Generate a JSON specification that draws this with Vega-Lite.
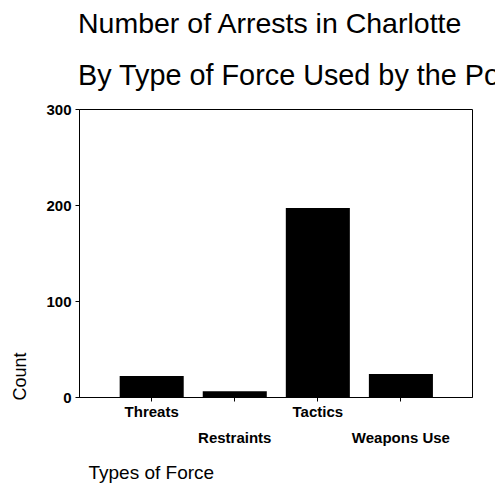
{
  "$schema": "https://vega.github.io/schema/vega-lite/v6.json",
  "autosize": "none",
  "padding": {"left": 79, "top": 109, "right": 23, "bottom": 105},
  "width": 393,
  "height": 288,
  "background": "white",
  "title": {
    "text": "Number of Arrests in Charlotte",
    "subtitle": "By Type of Force Used by the Police",
    "anchor": "start",
    "frame": "group",
    "dx": -1,
    "offset": 11,
    "font": "Liberation Sans",
    "fontSize": 28.5,
    "fontWeight": "normal",
    "color": "black",
    "subtitleFont": "Liberation Sans",
    "subtitleFontSize": 28.8,
    "subtitleColor": "black",
    "subtitlePadding": 24
  },
  "data": {
    "values": [
      {"force": "Threats", "count": 22},
      {"force": "Restraints", "count": 6},
      {"force": "Tactics", "count": 197},
      {"force": "Weapons Use", "count": 24}
    ]
  },
  "mark": {"type": "bar", "color": "black"},
  "encoding": {
    "x": {
      "field": "force",
      "type": "nominal",
      "sort": null,
      "scale": {"paddingInner": 0.229, "paddingOuter": 0.48, "align": 0.51},
      "axis": {
        "title": "Types of Force",
        "titleFont": "Liberation Sans",
        "titleFontSize": 19,
        "titleFontWeight": "normal",
        "titleColor": "black",
        "titleX": 9,
        "titleY": 75,
        "titleAlign": "left",
        "titleBaseline": "middle",
        "titleAnchor": "start",
        "labelAngle": 0,
        "labelFont": "Liberation Sans",
        "labelFontSize": 15,
        "labelFontWeight": "bold",
        "labelColor": "black",
        "labelPadding": 3,
        "labelLineHeight": 26,
        "labelExpr": "(datum.value == 'Restraints' || datum.value == 'Weapons Use') ? ['', datum.value] : datum.value",
        "tickSize": 4,
        "tickColor": "black",
        "domainColor": "black",
        "grid": false
      }
    },
    "y": {
      "field": "count",
      "type": "quantitative",
      "scale": {"domain": [0, 300], "nice": false},
      "axis": {
        "values": [0, 100, 200, 300],
        "title": "Count",
        "titleFont": "Liberation Sans",
        "titleFontSize": 18,
        "titleFontWeight": "normal",
        "titleColor": "black",
        "titleAngle": -90,
        "titleX": -50,
        "titleY": 291,
        "titleAlign": "left",
        "titleBaseline": "bottom",
        "labelFont": "Liberation Sans",
        "labelFontSize": 15,
        "labelFontWeight": "bold",
        "labelColor": "black",
        "labelPadding": 4,
        "tickSize": 4,
        "tickColor": "black",
        "domainColor": "black",
        "grid": false
      }
    }
  },
  "config": {
    "view": {"stroke": "black", "strokeWidth": 1}
  }
}
